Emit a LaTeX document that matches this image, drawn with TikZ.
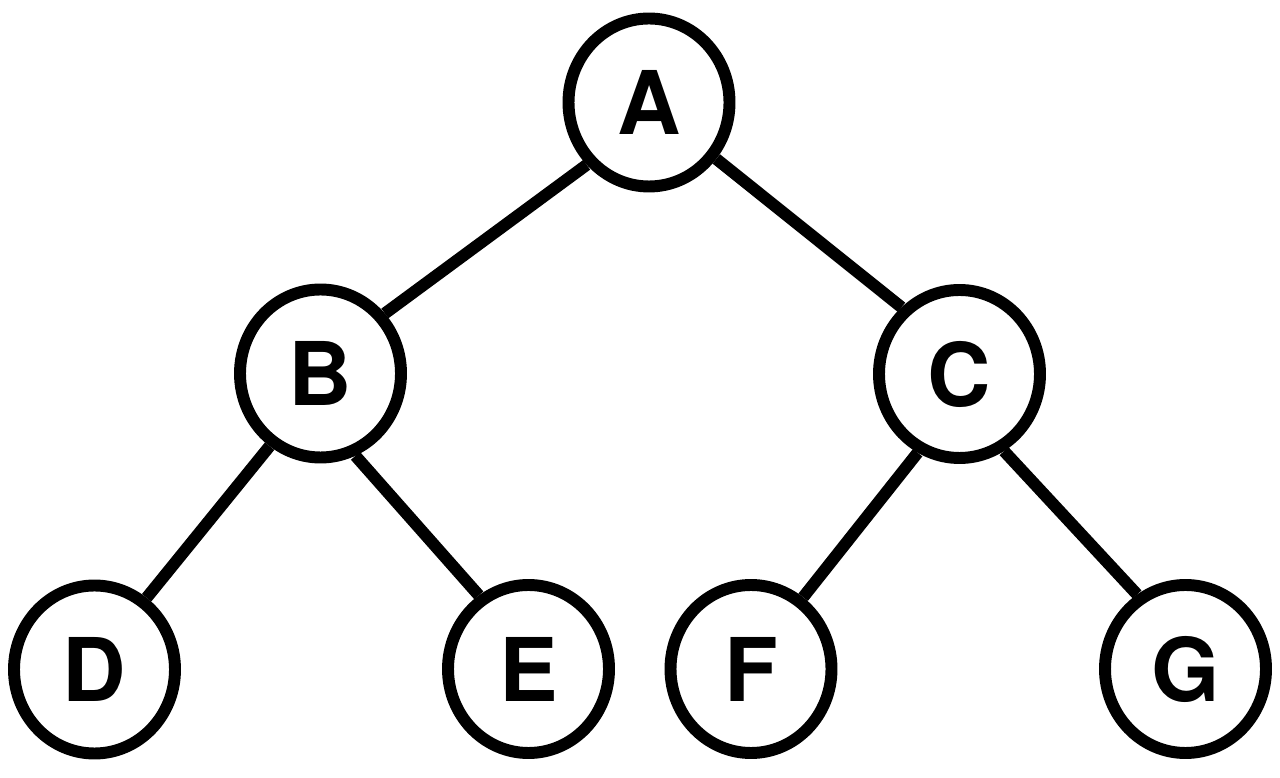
\documentclass[tikz,border=0pt]{standalone}
\usepackage{fontspec}
\setmainfont{TeX Gyre Heros}
\usepackage{tikz}
\usetikzlibrary{shapes.geometric}

\begin{document}
\begin{tikzpicture}[line width=6.8pt,
  vertex/.style={ellipse,draw=black,fill=white,minimum width=3.22cm,minimum height=3.36cm,
    inner sep=0pt,font=\fontsize{50}{50}\selectfont\bfseries}]
\useasboundingbox (0,0) rectangle (25.6,15.56);
\node[vertex] (A) at (12.98,13.51) {A};
\node[vertex] (B) at (6.41,8.09) {B};
\node[vertex] (C) at (19.19,8.08) {C};
\node[vertex] (D) at (1.89,2.17) {D};
\node[vertex] (E) at (10.57,2.18) {E};
\node[vertex] (F) at (15.02,2.18) {F};
\node[vertex] (G) at (23.71,2.18) {G};
\draw (A.-135) -- (B.43);
\draw (A.-40) -- (C.131);
\draw (B.-125) -- (D.54);
\draw (B.-67) -- (E.124);
\draw (C.-118) -- (F.54);
\draw (C.-60) -- (G.123);
\end{tikzpicture}
\end{document}
